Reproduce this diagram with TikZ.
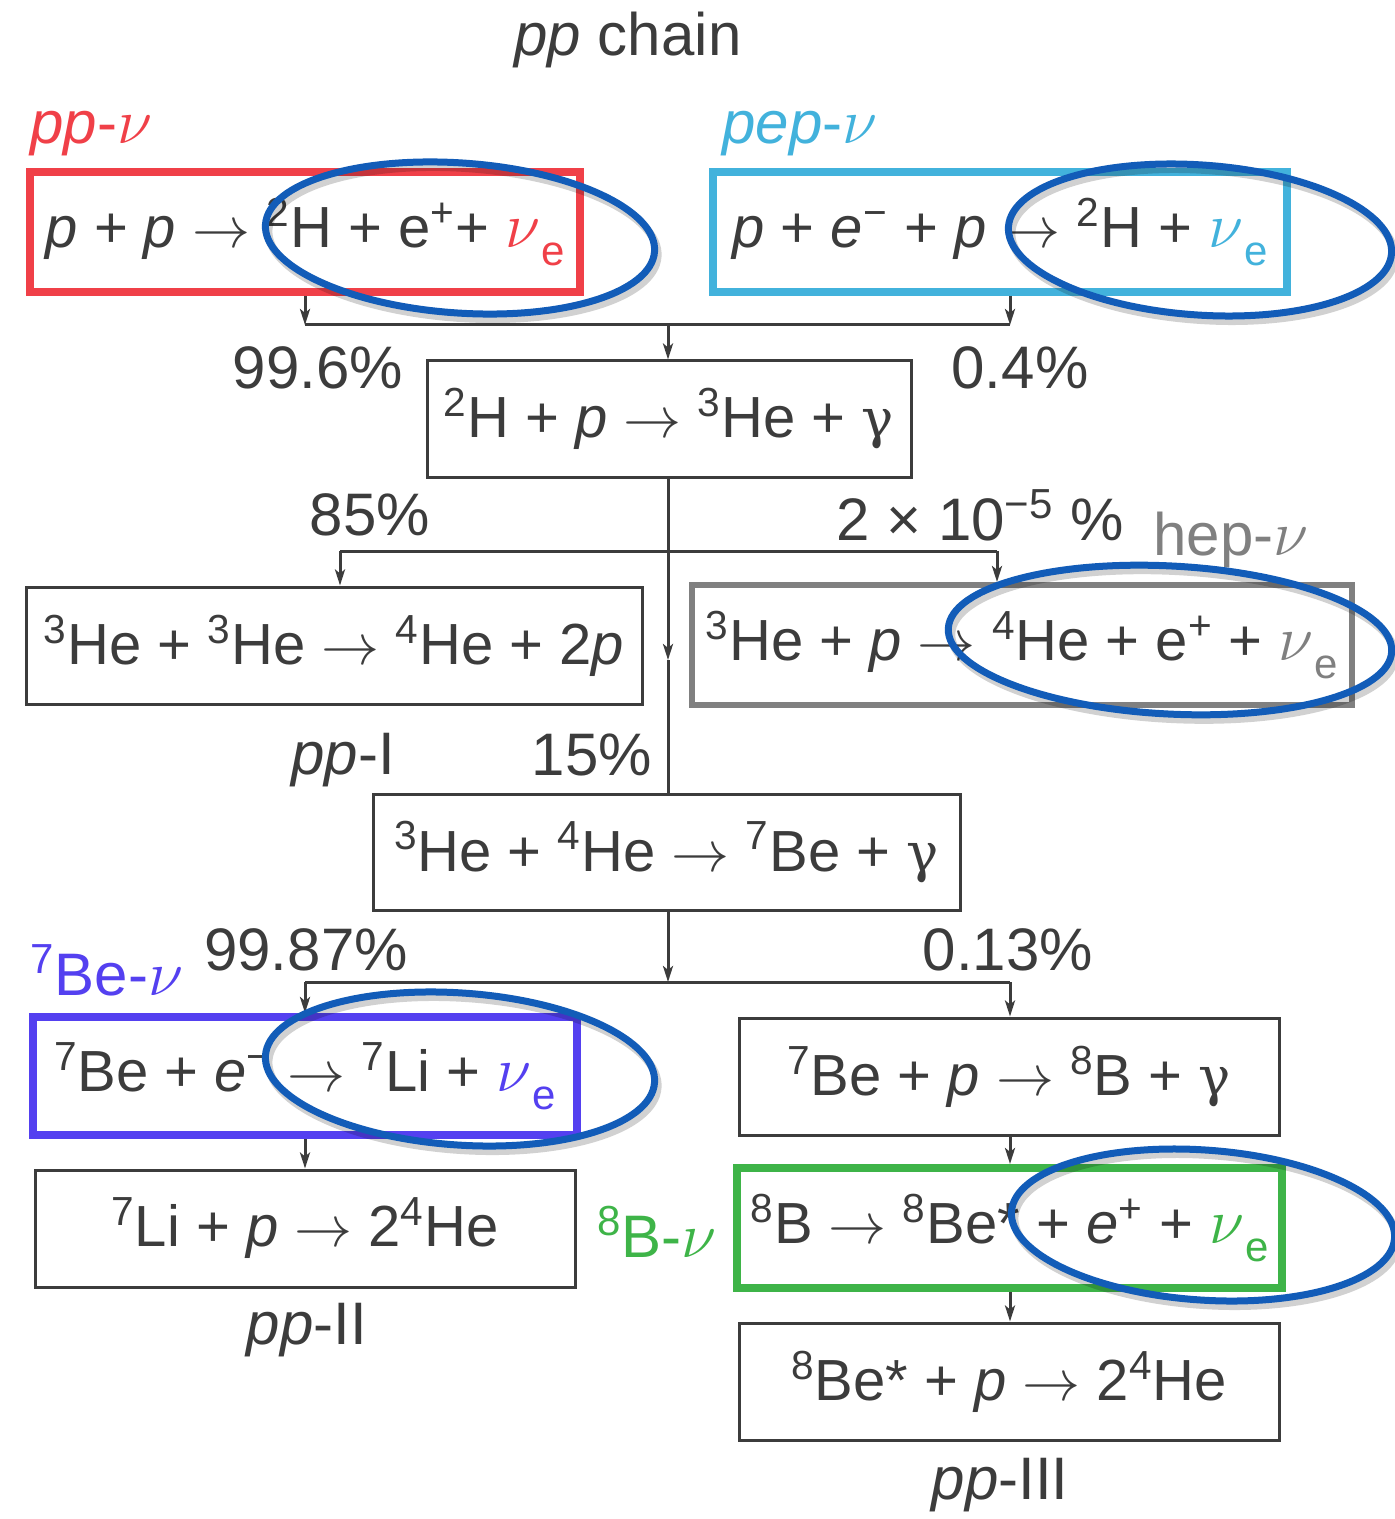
\RequirePackage{fix-cm}
\documentclass[tikz,border=0pt]{standalone}
\usepackage{fontspec}
\setmainfont{Liberation Sans}
\newfontfamily\grk{DejaVu Serif}
\usetikzlibrary{arrows.meta,calc}
\definecolor{ink}{RGB}{60,60,60}
\definecolor{ppred}{RGB}{240,64,72}
\definecolor{pepcyan}{RGB}{66,178,220}
\definecolor{hepgray}{RGB}{128,128,128}
\definecolor{beviolet}{RGB}{84,64,240}
\definecolor{bgreen}{RGB}{62,180,72}
\definecolor{circ}{RGB}{18,92,184}
\newcommand{\nuG}{{\fontsize{32}{40}\selectfont$\nu$}}
\newcommand{\nuE}{\nuG\kern0.5pt\raisebox{-9pt}{\fontsize{21}{24}\selectfont e}}
\newcommand{\gam}{{\fontsize{27}{36}\selectfont\grk γ}}
\newcommand{\ip}{\textit{p}}
\newcommand{\sx}[1]{\textsuperscript{#1}}
\newcommand{\ra}{$\rightarrow$}
\tikzset{
  every node/.style={font=\fontsize{30}{36}\selectfont, text=ink, inner sep=0pt},
  rbox/.style={draw=ink, line width=1.5pt, rectangle, fill=white, font=\fontsize{29}{36}\selectfont},
  cbox/.style={draw=#1, line width=4pt, rectangle, fill=white, font=\fontsize{29}{36}\selectfont},
  arr/.style={draw=ink, line width=1.5pt, -{Stealth[length=8pt,width=5pt,inset=2pt]}},
  ln/.style={draw=ink, line width=1.5pt},
  ring/.style={draw=circ, line width=3.5pt},
  ringshadow/.style={draw=black, opacity=0.18, line width=4pt}
}
\begin{document}
\begin{tikzpicture}[x=0.5pt,y=-0.5pt]
\useasboundingbox (0,0) rectangle (1395,1519);
\fill[white] (0,0) rectangle (1395,1519);

% title
\node (title) at (628,40) {\textit{pp} chain};

% top boxes
\node[cbox=ppred, minimum width=275pt, minimum height=60pt] (pp) at (305,232) {\ip{} + \ip{} \ra{} \sx{2}H + e\sx{+}+ {\color{ppred}\nuE}};
\node[cbox=pepcyan, minimum width=287pt, minimum height=60pt] (pep) at (1000,232) {\ip{} + \textit{e}\sx{−} + \ip{} \ra{} \sx{2}H + {\color{pepcyan}\nuE}};
\node[anchor=west, text=ppred] (pplbl) at (30,134) {\textit{pp}-\nuG};
\node[anchor=west, text=pepcyan] (peplbl) at (722,134) {\textit{pep}-\nuG};

% second box
\node[rbox, minimum width=242pt, minimum height=58pt] (b2) at (669,419) {\sx{2}H + \ip{} \ra{} \sx{3}He + \gam};
\node (p996) at (318,368) {99.6\%};
\node (p04) at (1020,368) {0.4\%};

% third row
\node[rbox, minimum width=308pt, minimum height=58.5pt] (b3) at (334,645.5) {\sx{3}He + \sx{3}He \ra{} \sx{4}He + 2\ip};
\node[cbox=hepgray, line width=3pt, minimum width=330pt, minimum height=60pt] (hep) at (1022,645) {\sx{3}He + \ip{} \ra{} \sx{4}He + e\sx{+} + {\color{hepgray}\nuE}};
\node (p85) at (370,515) {85\%};
\node (p2e5) at (980,515) {2 × 10\sx{−5} \%};
\node[anchor=west, text=hepgray] (heplbl) at (1153,540) {hep-\nuG};
\node (ppI) at (343,760) {\textit{pp}-I};
\node (p15) at (592,755) {15\%};

% fourth
\node[rbox, minimum width=293.5pt, minimum height=58pt] (b4) at (666.5,852) {\sx{3}He + \sx{4}He \ra{} \sx{7}Be + \gam};
\node[anchor=west, text=beviolet] (belbl) at (30,970) {\sx{7}Be-\nuG};
\node (p9987) at (306,950) {99.87\%};
\node (p013) at (1008,950) {0.13\%};

% left branch
\node[cbox=beviolet, minimum width=272pt, minimum height=59pt] (be) at (305,1076) {\sx{7}Be + \textit{e}\sx{−} \ra{} \sx{7}Li + {\color{beviolet}\nuE}};
\node[rbox, minimum width=270pt, minimum height=58.5pt] (li) at (305,1228.5) {\sx{7}Li + \ip{} \ra{} 2\sx{4}He};
\node (ppII) at (307,1330) {\textit{pp}-II};

% right branch
\node[rbox, minimum width=270pt, minimum height=58.5pt] (bep) at (1009,1076.5) {\sx{7}Be + \ip{} \ra{} \sx{8}B + \gam};
\node[cbox=bgreen, minimum width=272.5pt, minimum height=60pt] (bb) at (1009.5,1228) {\sx{8}B \ra{} \sx{8}Be* + \textit{e}\sx{+} + {\color{bgreen}\nuE}};
\node[text=bgreen] (blbl) at (657,1232) {\sx{8}B-\nuG};
\node[rbox, minimum width=270pt, minimum height=58.5pt] (bes) at (1009,1381.5) {\sx{8}Be* + \ip{} \ra{} 2\sx{4}He};
\node (ppIII) at (1000,1485) {\textit{pp}-III};

% connectors top
\coordinate (m1) at (668,325);
\coordinate (m1l) at (305,325);
\coordinate (m1r) at (1010,325);
\draw[arr] (pp.south -| m1l) -- (m1l);
\draw[arr] (pep.south -| m1r) -- (m1r);
\draw[ln] (m1l) -- (m1r);
\draw[arr] (m1) -- (m1 |- b2.north);

% connectors b2
\coordinate (m2) at (668,551);
\coordinate (m2l) at (340,551);
\coordinate (m2r) at (997,551);
\coordinate (mid) at (668,660);
\draw[ln] (b2.south -| m2) -- (m2);
\draw[ln] (m2l) -- (m2r);
\draw[arr] (m2l) -- (m2l |- b3.north);
\draw[arr] (m2r) -- (m2r |- hep.north);
\draw[arr] (m2) -- (mid);
\draw[ln] (mid) -- (mid |- b4.north);

% connectors b4
\coordinate (m3) at (668,982);
\coordinate (m3l) at (305,982);
\coordinate (m3r) at (1010,982);
\draw[arr] (b4.south -| m3) -- (m3);
\draw[ln] (m3l) -- (m3r);
\draw[arr] (m3l) -- (m3l |- be.north);
\draw[arr] (m3r) -- (m3r |- bep.north);
\draw[arr] (be.south) -- (li.north);
\draw[arr] (bep.south -| m3r) -- (m3r |- bb.north);
\draw[arr] (bb.south -| m3r) -- (m3r |- bes.north);

% rings
\foreach \cx/\cy/\rx/\ry/\rot in {460/238/195/75/-4, 1200/240/192/75/-4, 1170/640/222/74/-3, 460/1069/195/76/-4, 1203/1225/192/75/-4}{
  \draw[ringshadow, rotate around={\rot:(\cx+3,\cy+5)}] (\cx+3,\cy+5) ellipse [x radius=\rx, y radius=\ry];
  \draw[ring, rotate around={\rot:(\cx,\cy)}] (\cx,\cy) ellipse [x radius=\rx, y radius=\ry];
}
\end{tikzpicture}
\end{document}
